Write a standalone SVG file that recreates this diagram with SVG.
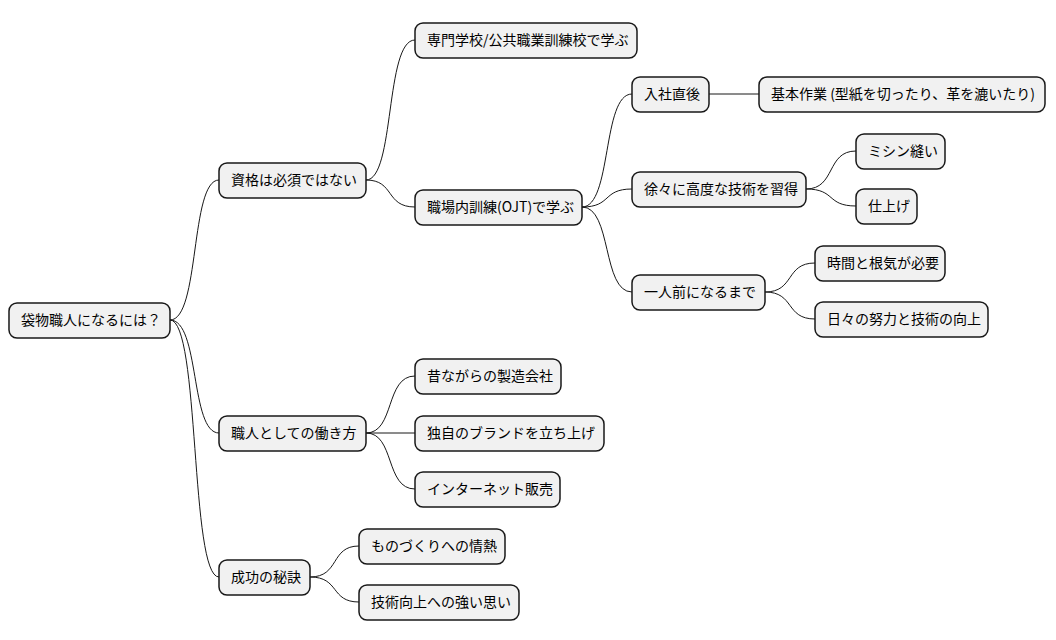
<svg xmlns="http://www.w3.org/2000/svg" width="1056" height="640" viewBox="0 0 1056 640">
<style>
.n rect{fill:#f1f1f1;stroke:#181818;stroke-width:1.5}
.n text{font-family:"Noto Sans CJK JP","Noto Sans",sans-serif;font-size:14px;fill:#000}
#c path{fill:none;stroke:#181818;stroke-width:1}
</style>
<rect width="1056" height="640" fill="#fff"/>
<g id="c">
<path d="M170,320 C200,320 190,180 219,180"/>
<path d="M170,320 C200,320 190,433 219,433"/>
<path d="M170,320 C200,320 190,577 219,577"/>
<path d="M366,180 C395,180 385,40 415,40"/>
<path d="M366,180 C395,180 385,207 415,207"/>
<path d="M582,207 C612,207 602,94 632,94"/>
<path d="M582,207 C612,207 602,189 632,189"/>
<path d="M582,207 C612,207 602,292 632,292"/>
<path d="M709,94 L759,94"/>
<path d="M806,189 C836,189 826,151 856,151"/>
<path d="M806,189 C836,189 826,206 856,206"/>
<path d="M765,292 C795,292 785,263 815,263"/>
<path d="M765,292 C795,292 785,319 815,319"/>
<path d="M366,433 C395,433 385,376 415,376"/>
<path d="M366,433 L415,433"/>
<path d="M366,433 C395,433 385,489 415,489"/>
<path d="M310,577 C340,577 330,546 359,546"/>
<path d="M310,577 C340,577 330,602 359,602"/>
</g>
<g id="root" class="n"><rect x="9" y="303" width="161" height="35" rx="8"/><text x="21" y="325">袋物職人になるには？</text></g>
<g id="n1" class="n"><rect x="219" y="163" width="147" height="35" rx="8"/><text x="231" y="185">資格は必須ではない</text></g>
<g id="n2" class="n"><rect x="219" y="416" width="147" height="35" rx="8"/><text x="231" y="438">職人としての働き方</text></g>
<g id="n3" class="n"><rect x="219" y="560" width="91" height="35" rx="8"/><text x="231" y="582">成功の秘訣</text></g>
<g id="n11" class="n"><rect x="415" y="23" width="222" height="35" rx="8"/><text x="427" y="45">専門学校/公共職業訓練校で学ぶ</text></g>
<g id="n12" class="n"><rect x="415" y="190" width="167" height="35" rx="8"/><text x="427" y="212">職場内訓練(OJT)で学ぶ</text></g>
<g id="n121" class="n"><rect x="632" y="77" width="77" height="35" rx="8"/><text x="644" y="99">入社直後</text></g>
<g id="n122" class="n"><rect x="632" y="172" width="174" height="35" rx="8"/><text x="644" y="194">徐々に高度な技術を習得</text></g>
<g id="n123" class="n"><rect x="632" y="275" width="133" height="35" rx="8"/><text x="644" y="297">一人前になるまで</text></g>
<g id="n1211" class="n"><rect x="759" y="77" width="286" height="35" rx="8"/><text x="771" y="99">基本作業 (型紙を切ったり、革を漉いたり)</text></g>
<g id="n1221" class="n"><rect x="856" y="134" width="89" height="35" rx="8"/><text x="868" y="156">ミシン縫い</text></g>
<g id="n1222" class="n"><rect x="856" y="189" width="61" height="35" rx="8"/><text x="868" y="211">仕上げ</text></g>
<g id="n1231" class="n"><rect x="815" y="246" width="130" height="35" rx="8"/><text x="827" y="268">時間と根気が必要</text></g>
<g id="n1232" class="n"><rect x="815" y="302" width="173" height="35" rx="8"/><text x="827" y="324">日々の努力と技術の向上</text></g>
<g id="n21" class="n"><rect x="415" y="359" width="146" height="35" rx="8"/><text x="427" y="381">昔ながらの製造会社</text></g>
<g id="n22" class="n"><rect x="415" y="416" width="189" height="35" rx="8"/><text x="427" y="438">独自のブランドを立ち上げ</text></g>
<g id="n23" class="n"><rect x="415" y="472" width="145" height="35" rx="8"/><text x="427" y="494">インターネット販売</text></g>
<g id="n31" class="n"><rect x="359" y="529" width="146" height="35" rx="8"/><text x="371" y="551">ものづくりへの情熱</text></g>
<g id="n32" class="n"><rect x="359" y="585" width="160" height="35" rx="8"/><text x="371" y="607">技術向上への強い思い</text></g>
</svg>
